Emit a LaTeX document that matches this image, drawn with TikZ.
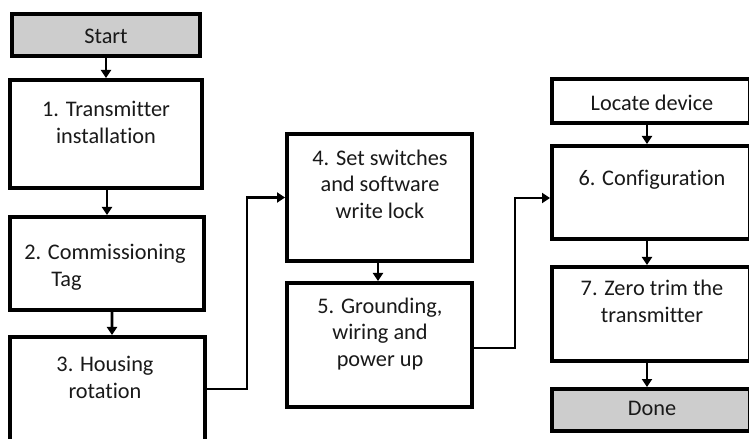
\documentclass[tikz,border=0pt]{standalone}
\usepackage{fontspec}
\setmainfont{Carlito}[Ligatures=NoCommon]
\usetikzlibrary{arrows.meta}
\definecolor{termgray}{RGB}{205,205,205}
\definecolor{txt}{RGB}{25,25,25}
\begin{document}
\begin{tikzpicture}[x=1bp,y=-1bp,
  box/.style={draw=black, line width=4bp, fill=white, inner sep=0pt},
  term/.style={box, fill=termgray},
  lbl/.style={align=center, inner sep=0pt, text=txt, font=\fontsize{22.3bp}{26.5bp}\selectfont},
  conn/.style={draw=black, line width=2.6bp, -{Triangle[length=8bp,width=10bp]}}]
\useasboundingbox (0,0) rectangle (749,439);
% boxes
\node[term, minimum width=188bp, minimum height=42bp] (start) at (106,35) {};
\node[box, minimum width=192bp, minimum height=108bp] (b1) at (106,134) {};
\node[box, minimum width=194bp, minimum height=93bp] (b2) at (107,263.5) {};
\node[box, minimum width=195bp, minimum height=123bp] (b3) at (107.5,398.5) {};
\node[box, minimum width=185bp, minimum height=127bp] (b4) at (379.5,197.5) {};
\node[box, minimum width=185bp, minimum height=124bp] (b5) at (379.5,345) {};
\node[box, minimum width=198bp, minimum height=44bp] (loc) at (651,101) {};
\node[box, minimum width=198bp, minimum height=93bp] (b6) at (651,192.5) {};
\node[box, minimum width=198bp, minimum height=94bp] (b7) at (651,314) {};
\node[term, minimum width=198bp, minimum height=42bp] (done) at (651,410) {};
% texts
\node[lbl] (tstart) at (106,36) {Start};
\node[lbl] (t1) at (106,122.5) {1. Transmitter\\installation};
\node[lbl, align=left] (t2) at (105,267) {2. Commissioning\\\hspace*{27bp}Tag};
\node[lbl] (t3) at (105,377.5) {3. Housing\\rotation};
\node[lbl] (t4) at (380,184) {4. Set switches\\and software\\write lock};
\node[lbl] (t5) at (380,334) {5. Grounding,\\wiring and\\power up};
\node[lbl] (tloc) at (652,103) {Locate device};
\node[lbl] (t6) at (652,180) {6. Configuration};
\node[lbl] (t7) at (652,301.5) {7. Zero trim the\\transmitter};
\node[lbl] (tdone) at (652,408) {Done};
% connectors
\draw[conn] (start.south) -- (b1.north);
\draw[conn] ([xshift=1bp]b1.south) -- ([xshift=0bp]b2.north);
\draw[conn] ([xshift=5bp]b2.south) -- ([xshift=4.5bp]b3.north);
\draw[conn] ([yshift=9.5bp]b3.east) -- ++(40,0) |- (b4.west);
\draw[conn] ([xshift=-1.5bp]b4.south) -- ([xshift=-1.5bp]b5.north);
\draw[conn] ([yshift=-3bp]b5.east) -- ++(41,0) |- ([yshift=-5.5bp]b6.west);
\draw[conn] ([xshift=-4bp]loc.south) -- ([xshift=-4bp]b6.north);
\draw[conn] ([xshift=-4bp]b6.south) -- ([xshift=-4bp]b7.north);
\draw[conn] ([xshift=-4bp]b7.south) -- ([xshift=-4bp]done.north);
\end{tikzpicture}
\end{document}
